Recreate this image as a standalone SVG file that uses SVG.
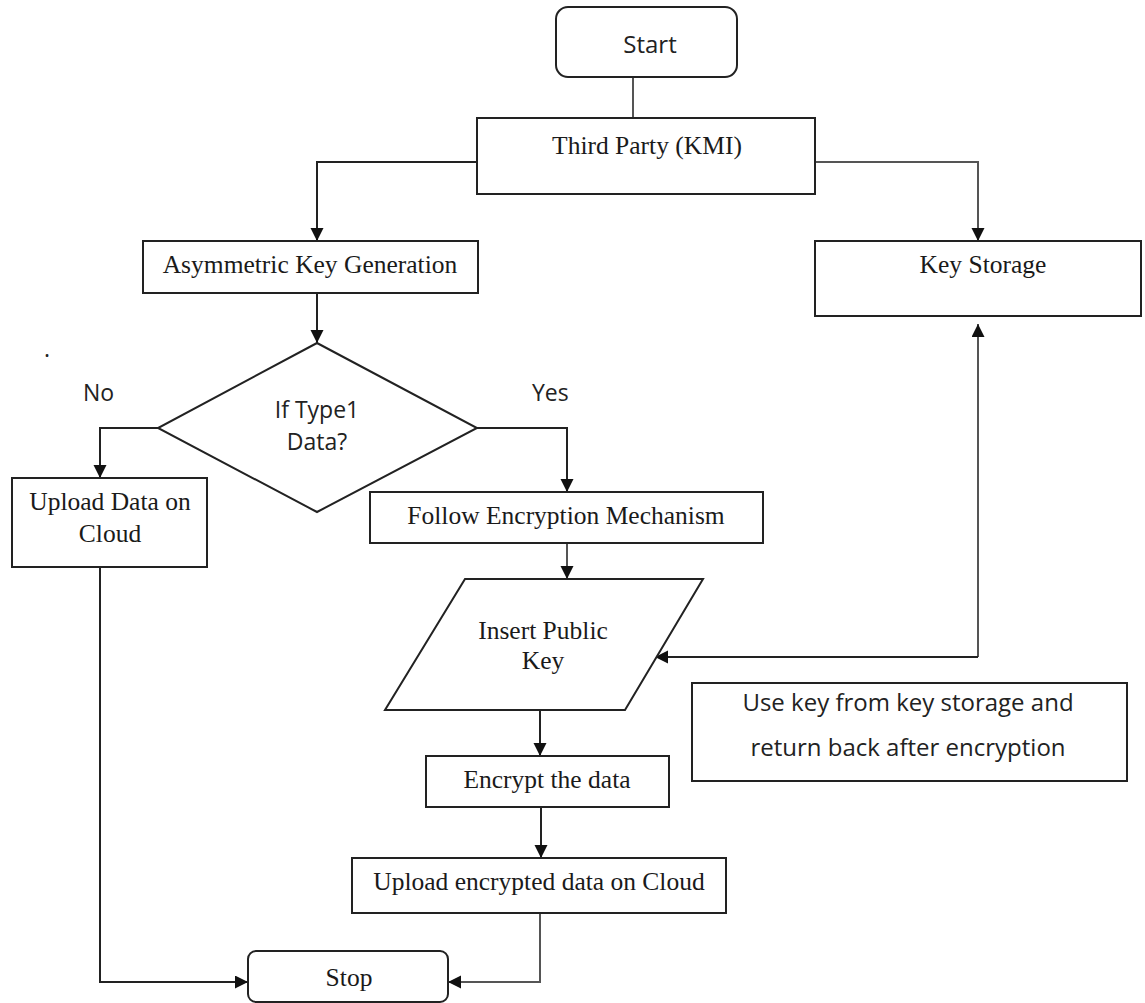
<svg xmlns="http://www.w3.org/2000/svg" width="1145" height="1003" viewBox="0 0 1145 1003">
<style>
.box{fill:#fff;stroke:#222;stroke-width:2}
.ser{font-family:"Liberation Serif","Times New Roman",serif;font-size:25.5px;fill:#1a1a1a;text-anchor:middle}
.sans{font-family:"Open Sans","Liberation Sans",sans-serif;font-size:24px;fill:#222;text-anchor:middle}
.dia{font-family:"Open Sans","Liberation Sans",sans-serif;font-size:23px;fill:#222;text-anchor:middle}
.lbl{font-family:"Open Sans","Liberation Sans",sans-serif;font-size:23px;fill:#222}
.c{fill:none;stroke:#222;stroke-width:2}
.cg{fill:none;stroke:#555;stroke-width:2}
</style>
<defs>
<marker id="ah" markerUnits="userSpaceOnUse" markerWidth="14" markerHeight="14" refX="13" refY="6.5" orient="auto">
<path d="M0,0 L13,6.5 L0,13 z" fill="#111"/>
</marker>
</defs>
<rect width="1145" height="1003" fill="#fff"/>
<g id="connectors">
<path class="cg" d="M633,77 V118"/>
<path class="c" d="M477,162 H317 V241" marker-end="url(#ah)"/>
<path class="cg" d="M815,162 H978 V241" marker-end="url(#ah)"/>
<path class="c" d="M317,293 V343" marker-end="url(#ah)"/>
<path class="c" d="M158,428 H100 V478" marker-end="url(#ah)"/>
<path class="c" d="M477,428 H567 V492" marker-end="url(#ah)"/>
<path class="cg" d="M567,543 V579" marker-end="url(#ah)"/>
<path class="cg" d="M978,657 V324" marker-end="url(#ah)"/>
<path class="c" d="M978,657 H655" marker-end="url(#ah)"/>
<path class="c" d="M540,710 V756" marker-end="url(#ah)"/>
<path class="c" d="M541,807 V858" marker-end="url(#ah)"/>
<path class="cg" d="M540,913 V982 H448" marker-end="url(#ah)"/>
<path class="c" d="M100,567 V982 H248" marker-end="url(#ah)"/>
</g>
<g id="start">
<rect class="box" x="556" y="7" width="181" height="70" rx="12"/>
<text class="sans" x="650" y="53">Start</text>
</g>
<g id="third-party">
<rect class="box" x="477" y="118" width="338" height="76"/>
<text class="ser" x="647" y="154">Third Party (KMI)</text>
</g>
<g id="asym-key">
<rect class="box" x="143" y="241" width="335" height="52"/>
<text class="ser" x="310" y="273">Asymmetric Key Generation</text>
</g>
<g id="key-storage">
<rect class="box" x="815" y="241" width="326" height="75"/>
<text class="ser" x="983" y="273">Key Storage</text>
</g>
<g id="decision">
<polygon class="box" points="317,343 477,428 317,512 158,428"/>
<text class="dia" x="317" y="418">If Type1</text>
<text class="dia" x="317" y="450">Data?</text>
</g>
<g id="labels">
<text class="lbl" x="83" y="401">No</text>
<text class="lbl" x="532" y="401">Yes</text>
<text class="lbl" x="44" y="357">.</text>
</g>
<g id="upload-data">
<rect class="box" x="12" y="478" width="195" height="89"/>
<text class="ser" x="110" y="510">Upload Data on</text>
<text class="ser" x="110" y="542">Cloud</text>
</g>
<g id="follow-enc">
<rect class="box" x="370" y="492" width="393" height="51"/>
<text class="ser" x="566" y="524">Follow Encryption Mechanism</text>
</g>
<g id="insert-key">
<polygon class="box" points="465,579 703,579 625,710 385,710"/>
<text class="ser" x="543" y="639">Insert Public</text>
<text class="ser" x="543" y="669">Key</text>
</g>
<g id="note">
<rect class="box" x="692" y="683" width="435" height="98"/>
<text class="sans" x="908" y="711">Use key from key storage and</text>
<text class="sans" x="908" y="756">return back after encryption</text>
</g>
<g id="encrypt">
<rect class="box" x="426" y="756" width="243" height="51"/>
<text class="ser" x="547" y="788">Encrypt the data</text>
</g>
<g id="upload-enc">
<rect class="box" x="352" y="858" width="374" height="55"/>
<text class="ser" x="539" y="890">Upload encrypted data on Cloud</text>
</g>
<g id="stop">
<rect class="box" x="248" y="951" width="200" height="51" rx="8"/>
<text class="ser" x="349" y="986">Stop</text>
</g>
</svg>
